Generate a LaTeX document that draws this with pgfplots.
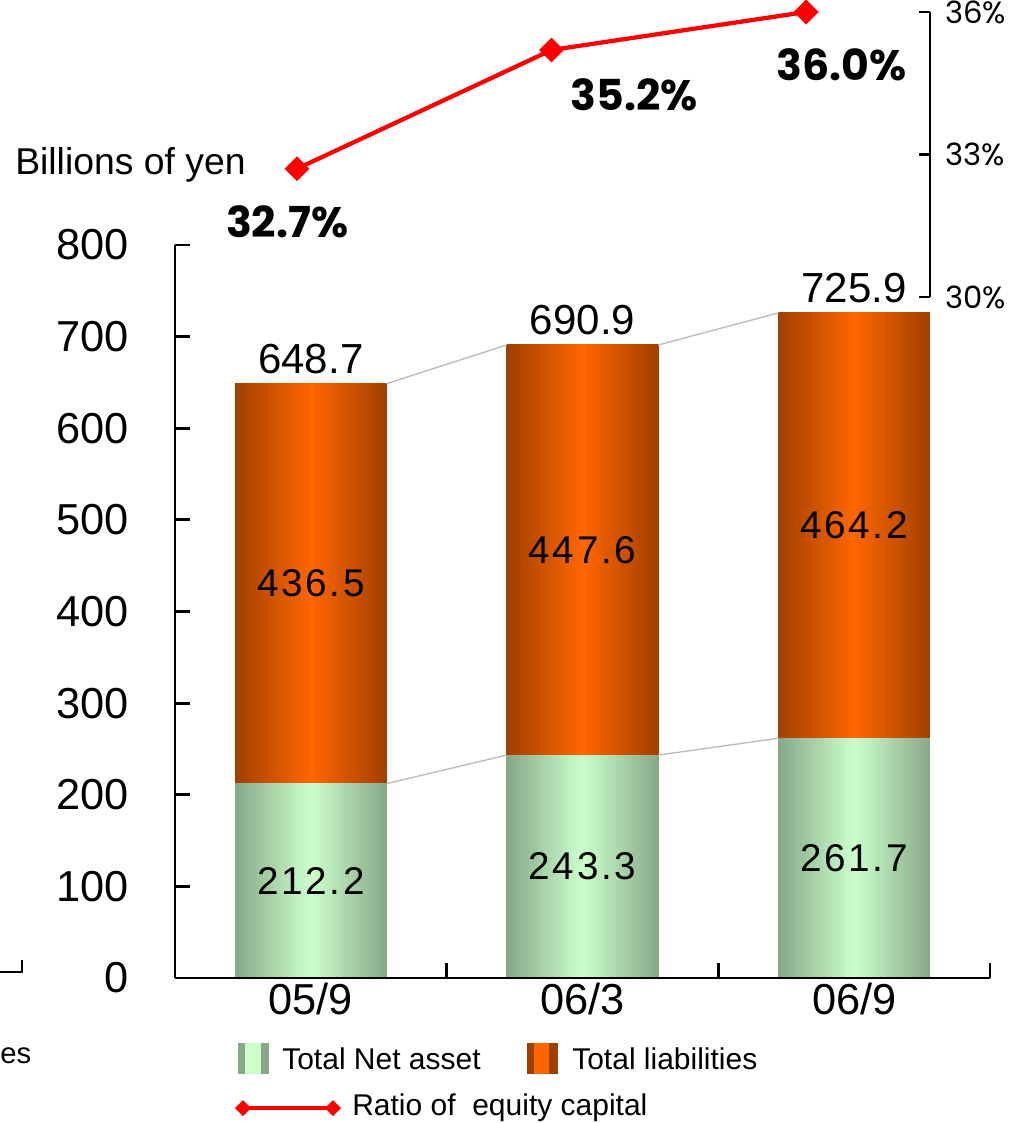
\documentclass[border=0pt]{standalone}
\usepackage{pgfplots}
\pgfplotsset{compat=1.18}
\usepackage{fontspec}
\setmainfont{Liberation Sans}
\newfontfamily\spaced[LetterSpace=7]{Liberation Sans}
\newfontfamily\pop{Poppins}
\definecolor{gdark}{HTML}{88A888}
\definecolor{glight}{HTML}{CCFFCC}
\definecolor{odark}{HTML}{A04000}
\definecolor{obright}{HTML}{FF6600}
\definecolor{conn}{HTML}{BBBBBB}
\pgfplotsset{
  gbar/.style={draw=none, left color=gdark, right color=gdark, middle color=glight},
  obar/.style={draw=none, left color=odark, right color=odark, middle color=obright},
  geom/.style={at={(131.25pt,-733.5pt)}, anchor=south west, scale only axis,
    width=611.25pt, height=549.75pt, xmin=-0.5, xmax=2.5, ymin=0, ymax=800},
  barcol/.style={geom, hide axis, ybar stacked, bar width=0.558},
}
\begin{document}
\begin{tikzpicture}
\useasboundingbox (0,0) rectangle (762.75pt,-842.25pt);
% ---------- bars, one stacked column per axis ----------
\begin{axis}[barcol]
\addplot[gbar] coordinates {(0,212.2)};
\addplot[obar] coordinates {(0,436.5)};
\end{axis}
\begin{axis}[barcol]
\addplot[gbar] coordinates {(1,243.3)};
\addplot[obar] coordinates {(1,447.6)};
\end{axis}
\begin{axis}[barcol]
\addplot[gbar] coordinates {(2,261.7)};
\addplot[obar] coordinates {(2,464.2)};
\end{axis}
% ---------- axis frame, connectors and labels ----------
\begin{axis}[
  geom, clip=false,
  axis x line*=bottom, axis y line*=left,
  axis line style={line width=2.2pt, -},
  ytick={0,100,...,800},
  xtick={-0.5,0.5,1.5,2.5}, xticklabels={},
  extra x ticks={0,1,2}, extra x tick labels={05/9,06/3,06/9},
  extra x tick style={major tick length=0pt},
  tick style={line width=2.2pt, black}, major tick length=11pt, tick align=inside,
  /pgf/number format/assume math mode=true,
  tick label style={font=\fontsize{32.5}{32.5}\selectfont},
  yticklabel style={xshift=-31pt},
]
\addplot[conn, line width=1pt] coordinates {(0.279,212.2) (0.721,243.3)};
\addplot[conn, line width=1pt] coordinates {(1.279,243.3) (1.721,261.7)};
\addplot[conn, line width=1pt] coordinates {(0.279,648.7) (0.721,690.9)};
\addplot[conn, line width=1pt] coordinates {(1.279,690.9) (1.721,725.9)};
\addplot[draw=none, nodes near coords, point meta=explicit symbolic,
  nodes near coords style={anchor=center, font=\spaced\fontsize{29}{29}\selectfont}]
  table[meta=lab, row sep=\\] {
  x y lab\\
  0 106.1 212.2\\
  1 121.65 243.3\\
  2 130.85 261.7\\
  0 430.45 436.5\\
  1 467.1 447.6\\
  2 493.8 464.2\\
};
\addplot[draw=none, nodes near coords, point meta=explicit symbolic,
  nodes near coords style={anchor=south, yshift=4pt, font=\fontsize{31.5}{31.5}\selectfont}]
  table[meta=lab, row sep=\\] {
  x y lab\\
  0 648.7 648.7\\
  1 690.9 690.9\\
  2 725.9 725.9\\
};
\end{axis}
% ---------- ratio axis ----------
\begin{axis}[
  at={(131.25pt,-222.75pt)}, anchor=south west, scale only axis,
  width=566.25pt, height=213.75pt,
  xmin=-0.4794, xmax=2.487, ymin=30, ymax=36,
  axis x line=none, axis y line*=right,
  axis line style={line width=2pt, -},
  ytick={30,33,36}, yticklabels={30\%,33\%,36\%},
  tick align=inside, major tick length=8pt, tick style={line width=2pt, black},
  yticklabel style={font=\pop\fontsize{23}{23}\selectfont, xshift=8pt},
  clip=false,
]
\addplot[red, line width=3.2pt, mark=square*, mark size=5pt, mark options={rotate=45}]
  coordinates {(0,32.7) (1,35.2) (2,36.0)};
\node[font=\pop\bfseries\fontsize{32}{32}\selectfont] at (axis cs:-0.039,31.58) {32.7\%};
\node[font=\pop\bfseries\fontsize{32}{32}\selectfont] at (axis cs:1.324,34.25) {35.2\%};
\node[font=\pop\bfseries\fontsize{32}{32}\selectfont] at (axis cs:2.141,34.88) {36.0\%};
\end{axis}
% ---------- free texts and legend ----------
\begin{scope}[x=0.75pt, y=-0.75pt]
\node[anchor=west, inner sep=0pt, font=\fontsize{28}{28}\selectfont] at (15,165) {Billions of yen};
\draw[line width=2.2pt] (0,972) -- (22,972) -- (22,960);
\node[anchor=west, inner sep=0pt, font=\fontsize{22}{22}\selectfont] at (0,1056) {es};
% legend row 1
\fill[gdark] (238,1043) rectangle (245,1074);
\fill[glight] (245,1043) rectangle (261,1074);
\fill[gdark] (261,1043) rectangle (269,1074);
\node[anchor=west, inner sep=0pt, font=\fontsize{22.5}{22.5}\selectfont] at (282,1059) {Total Net asset};
\fill[odark] (527,1043) rectangle (534,1074);
\fill[obright] (534,1043) rectangle (549,1074);
\fill[odark] (549,1043) rectangle (558,1074);
\node[anchor=west, inner sep=0pt, font=\fontsize{22.5}{22.5}\selectfont] at (572,1059) {Total liabilities};
% legend row 2
\draw[red, line width=3pt] (243,1108) -- (333,1108);
\fill[red] (243,1100) -- (251,1108) -- (243,1116) -- (235,1108) -- cycle;
\fill[red] (333,1100) -- (341,1108) -- (333,1116) -- (325,1108) -- cycle;
\node[anchor=west, inner sep=0pt, font=\fontsize{22.5}{22.5}\selectfont] at (352,1108) {Ratio of\ \ equity capital};
\end{scope}
\end{tikzpicture}
\end{document}
